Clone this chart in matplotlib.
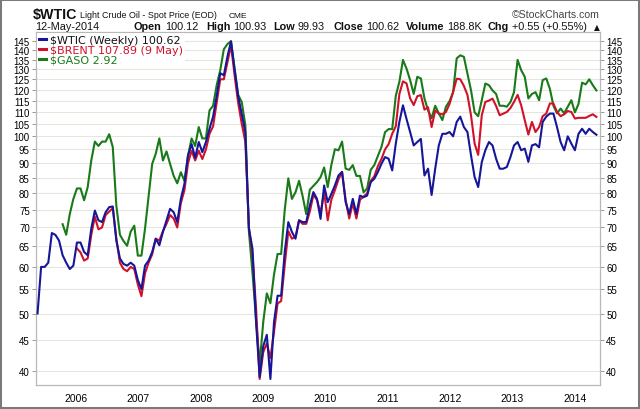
import matplotlib
matplotlib.use('Agg')
import matplotlib.pyplot as plt
import matplotlib.dates as mdates
from matplotlib.ticker import NullLocator, FixedLocator, FixedFormatter
from matplotlib.patches import Rectangle
from matplotlib.lines import Line2D
import numpy as np
import pandas as pd

# ---------------- data ----------------
dates = pd.date_range(end='2014-05-09', periods=157, freq='21D')

wtic = [50, 60, 60, 61, 68.5, 68, 66.5, 62.8, 61, 59.5,
        60.3, 66, 66, 63.6, 62.8, 69.7, 74.8, 72, 71.5, 74.3,
        75.8, 76, 66.5, 62, 60.7, 60.3, 61, 60.3, 57, 55,
        60.3, 61.5, 63.6, 67, 65.3, 68.8, 72, 75.3, 74.3, 71.5,
        78.3, 83, 92.8, 97, 92, 97.8, 94, 97.8, 103, 108,
        117, 128, 127, 136.5, 145, 130, 117, 109, 101.7, 69.7,
        64.4, 48.3, 39, 44, 46, 38.7, 48.3, 53.6, 53.6, 63.6,
        71.5, 68.8, 67, 72, 71.5, 71.5, 76.3, 80.4, 78.3, 72.4,
        82.5, 77.3, 79.8, 82.5, 85.8, 87, 77.3, 73.8, 78.3, 73.8,
        79.3, 78.8, 79.3, 83.6, 84.7, 87, 89.8, 92.2, 91.6, 87.5,
        97.2, 105.8, 112.9, 107, 101.7, 96.5, 97.8, 99, 85.8, 88.1,
        79.5, 88.1, 96.5, 101, 101, 101.7, 100, 105.8, 108, 103.7,
        101.7, 92.8, 85.3, 82, 90.4, 94.7, 97.8, 96.5, 91.6, 88.1,
        88.1, 88.7, 92.2, 96.5, 97.8, 94.7, 95.3, 90.5, 96.5, 97,
        95.8, 105.8, 108, 109.3, 109.3, 103.7, 97.8, 94.7, 100, 97.2,
        94.7, 101, 103, 101, 103, 101.7, 100.62]

brent = [None] * 11 + [
        64.5, 63.5, 61.5, 62, 68, 73, 69.5, 70, 73.5,
        74.5, 75.5, 67, 61, 59.5, 59, 60, 59.5, 56, 53.5,
        58.5, 61, 63, 67, 66.5, 69, 71, 73.5, 72.5, 70,
        77, 81, 90, 94.5, 91, 94.5, 91.5, 95, 101, 104,
        114, 125, 125, 133.5, 143, 127, 114, 105, 98, 70,
        63, 51, 38.7, 43, 44.5, 42, 46.5, 52, 52.5, 60.5,
        69, 67, 67.5, 72, 71, 71, 74.5, 79.5, 78, 74,
        80.5, 72, 78, 81, 84.5, 87, 78, 72.5, 77, 72.5,
        78, 79, 80, 84, 85.5, 89, 91.5, 95, 97, 101,
        104, 118, 124, 123, 116, 113, 117, 117.5, 111, 112,
        103.7, 110.6, 109.3, 109, 110, 113.5, 119, 125.3, 125, 121.8,
        117.6, 108.5, 97.2, 93, 108.6, 114.4, 115, 115.9, 112.6, 108.6,
        109.3, 110, 111.7, 114.4, 117.6, 112.9, 106.5, 100.7, 105.8, 101.7,
        103.7, 108.2, 109.3, 113.7, 113.7, 110, 108.2, 109, 110.4, 110,
        107.2, 107.5, 107.5, 107.5, 108.3, 109, 107.89]

gaso = [None] * 7 + [
        1.73, 1.66, 1.80,
        1.91, 1.99, 1.99, 1.90, 2.00, 2.22, 2.39, 2.35, 2.39, 2.39,
        2.46, 2.34, 1.86, 1.66, 1.62, 1.59, 1.68, 1.72, 1.53, 1.53,
        1.70, 1.93, 2.19, 2.28, 2.42, 2.22, 2.30, 2.19, 2.09, 2.03,
        2.12, 2.05, 2.26, 2.42, 2.35, 2.53, 2.42, 2.42, 2.70, 2.75,
        2.98, 3.16, 3.43, 3.50, 3.54, 3.18, 2.87, 2.79, 2.55, 1.68,
        1.43, 1.19, 1.00, 1.18, 1.32, 1.27, 1.42, 1.54, 1.54, 1.83,
        2.07, 1.91, 1.96, 2.05, 1.93, 1.80, 1.98, 2.01, 2.04, 2.08,
        2.16, 2.00, 2.18, 2.32, 2.31, 2.39, 2.15, 2.14, 2.18, 2.09,
        2.09, 1.96, 1.99, 2.14, 2.18, 2.26, 2.34, 2.48, 2.51, 2.51,
        2.86, 3.02, 3.29, 3.18, 3.04, 2.88, 3.08, 3.06, 2.83, 2.70,
        2.62, 2.75, 2.67, 2.60, 2.74, 2.80, 2.90, 3.31, 3.35, 3.33,
        3.12, 2.92, 2.68, 2.64, 2.81, 3.00, 2.98, 2.92, 2.88, 2.75,
        2.75, 2.74, 2.79, 2.90, 3.29, 3.16, 3.08, 2.83, 2.88, 2.90,
        2.81, 3.04, 3.06, 2.94, 2.75, 2.67, 2.72, 2.67, 2.74, 2.81,
        2.68, 2.77, 3.01, 2.99, 3.05, 2.98, 2.92]

y_ticks = [40, 45, 50, 55, 60, 65, 70, 75, 80, 85, 90, 95, 100,
           105, 110, 115, 120, 125, 130, 135, 140, 145]
legend_labels = ['$WTIC (Weekly) 100.62', '$BRENT 107.89 (9 May)', '$GASO 2.92']
quote_fields = [('Open', '100.12'), ('High', '100.93'), ('Low', '99.93'),
                ('Close', '100.62'), ('Volume', '188.8K'), ('Chg', '+0.55 (+0.55%)')]

# ---------------- style ----------------
C_WTIC = '#16169a'
C_BRENT = '#d0112b'
C_GASO = '#187a18'
GRID_LIGHT = '#e6e6dc'
GRID_YEAR = '#c9c9c9'
SPINE = '#b8b8b8'
Y_LIM = (37.8, 150.4)
GASO_SCALE = 0.0244   # overlay scaling of the gasoline price

W, H = 640, 410
fig = plt.figure(figsize=(W / 100, H / 100), dpi=100)
fig.patch.set_facecolor('white')

L, R, T, B = 36, 600, 33, 386
ax = fig.add_axes([L / W, 1 - B / H, (R - L) / W, (B - T) / H])
ax_g = ax.twinx()

wtic_a = np.array(wtic, dtype=float)
brent_a = np.array([np.nan if v is None else v for v in brent], dtype=float)
gaso_a = np.array([np.nan if v is None else v for v in gaso], dtype=float)

# ---- gasoline overlay on its own log scale (also carries the grid) ----
ax_g.set_yscale('log')
ax_g.set_ylim(Y_LIM[0] * GASO_SCALE, Y_LIM[1] * GASO_SCALE)
ax_g.yaxis.set_major_locator(FixedLocator([t * GASO_SCALE for t in y_ticks]))
ax_g.yaxis.set_minor_locator(NullLocator())
ax_g.tick_params(axis='y', which='both', right=False, left=False,
                 labelright=False, labelleft=False)
for sp in ax_g.spines.values():
    sp.set_visible(False)
ax_g.set_axisbelow(True)
ax_g.grid(which='major', axis='y', color=GRID_LIGHT, lw=0.8)
ax_g.grid(which='minor', axis='x', color=GRID_LIGHT, lw=0.8)
ax_g.grid(which='major', axis='x', color=GRID_YEAR, lw=0.8)
ax_g.plot(dates, gaso_a, color=C_GASO, lw=1.5, solid_joinstyle='round')

ax.set_zorder(ax_g.get_zorder() + 1)
ax.patch.set_visible(False)

ax.plot(dates, brent_a, color=C_BRENT, lw=1.5, solid_joinstyle='round', zorder=3)
ax.plot(dates, wtic_a, color=C_WTIC, lw=1.5, solid_joinstyle='round', zorder=4)

ax.set_yscale('log')
ax.set_ylim(*Y_LIM)
ax.yaxis.set_major_locator(FixedLocator(y_ticks))
ax.yaxis.set_major_formatter(FixedFormatter([str(t) for t in y_ticks]))
ax.yaxis.set_minor_locator(NullLocator())

ax.set_xlim(pd.Timestamp('2005-05-11'), pd.Timestamp('2014-05-30'))
ax.xaxis.set_major_locator(mdates.YearLocator())
ax.xaxis.set_major_formatter(mdates.DateFormatter('%Y'))
ax.xaxis.set_minor_locator(mdates.MonthLocator(bymonth=[4, 7, 10]))

ax.tick_params(axis='y', which='major', left=True, right=True,
               labelleft=True, labelright=True, length=3, width=0.7,
               color='#9a9a9a', labelsize=7, pad=1.5)
ax.tick_params(axis='x', which='both', length=0, labelsize=7.5, pad=6)
for lab in ax.get_xticklabels() + ax.get_yticklabels():
    lab.set_family(['Liberation Sans', 'DejaVu Sans'])
for lab in ax.yaxis.get_ticklabels(which='major'):
    lab.set_family(['Liberation Sans', 'DejaVu Sans'])
for sp in ax.spines.values():
    sp.set_color(SPINE)
    sp.set_linewidth(0.9)

# legend
handles = [Line2D([], [], color=c, lw=2.2) for c in (C_WTIC, C_BRENT, C_GASO)]
leg = ax.legend(handles, legend_labels, loc='upper left', bbox_to_anchor=(0.0, 1.0),
                frameon=True, facecolor='white', edgecolor='none', framealpha=1,
                fancybox=False, handlelength=0.65, handletextpad=0.35,
                labelspacing=0.0, borderpad=0.2, borderaxespad=0.05,
                prop={'family': 'DejaVu Sans', 'size': 8})
for txt, col in zip(leg.get_texts(), ['#111111', C_BRENT, C_GASO]):
    txt.set_color(col)
leg.set_zorder(10)

# header
def fx(px):
    return px / W

def fy(py):
    return 1 - py / H

sans = ['Liberation Sans', 'DejaVu Sans']
fig.text(fx(33), fy(18.5), '$WTIC', fontsize=10.3, fontweight='bold', family=sans, color='#111111')
fig.text(fx(79.5), fy(18.5), 'Light Crude Oil - Spot Price (EOD)', fontsize=6.4, family=sans, color='#111111')
fig.text(fx(229), fy(18.5), 'CME', fontsize=6, family=sans, color='#111111')
fig.text(fx(600), fy(18.5), '\u00a9StockCharts.com', fontsize=7.6, family=sans, color='#444444', ha='right')

LINE2_Y = 30.5
LINE2_FS = 7.8
fig.text(fx(35), fy(LINE2_Y), '12-May-2014', fontsize=LINE2_FS, family=sans, color='#111111')
renderer = fig.canvas.get_renderer()
group_x = [134, 206, 273, 333, 406, 488]
for gx, (lab, val) in zip(group_x, quote_fields):
    t = fig.text(fx(gx), fy(LINE2_Y), lab, fontsize=LINE2_FS, fontweight='bold',
                 family=sans, color='#111111')
    bb = t.get_window_extent(renderer)
    fig.text((bb.x1 + 3) / W, fy(LINE2_Y), val, fontsize=LINE2_FS, family=sans, color='#111111')
fig.text(fx(600), fy(LINE2_Y), '\u25b2', fontsize=5.5, family=['DejaVu Sans'], color='#111111', ha='right')

# outer border
fig.patches.append(Rectangle((0, 0), 1, 1, transform=fig.transFigure, fill=False,
                             edgecolor='#7a7a7a', lw=2.9, zorder=20))

fig.savefig('out.png', dpi=100, facecolor='white')
